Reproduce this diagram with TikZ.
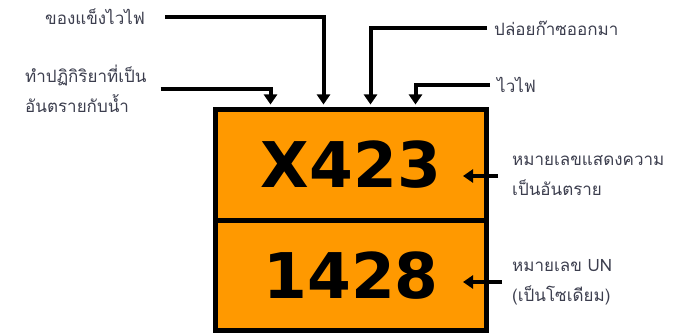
\documentclass[tikz,border=0pt]{standalone}
\usepackage{fontspec}
\usepackage{tikz}
\usetikzlibrary{arrows.meta,positioning}
\newfontfamily\thaifont[Script=Thai]{Loma}
\newfontfamily\platefont{DejaVu Sans}
\definecolor{plateorange}{RGB}{255,153,0}
\definecolor{labelgray}{RGB}{60,62,78}

\begin{document}
\begin{tikzpicture}[
			x=1pt,y=-1pt,
			panel/.style={
				rectangle,
				draw=black,
				line width=5pt,
				fill=plateorange,
				minimum width=271pt,
				inner sep=0pt,
				font=\platefont\bfseries\fontsize{63}{63}\selectfont
			},
			thlabel/.style={
				anchor=west,
				align=left,
				inner sep=2pt,
				text=labelgray,
				font=\thaifont\fontsize{17}{30}\selectfont
			},
			pointer/.style={-{Triangle[length=10pt,width=13pt]},line width=4pt,draw=black}
			]
			\useasboundingbox (0,0) rectangle (674,334);
			\node[panel, minimum height=111pt] (hazard) at (351,165) {X423};
			\node[panel, minimum height=110pt] (unnum) at (351,275.5) {1428};
			
			\node[thlabel] (solid) at (43,17) {ของแข็งไวไฟ};
			\node[thlabel] (water) at (23,89) {ทำปฏิกิริยาที่เป็น\\อันตรายกับน้ำ};
			\node[thlabel] (gas) at (492,28) {ปล่อยก๊าซออกมา};
			\node[thlabel] (flam) at (495,85) {ไวไฟ};
			\node[thlabel] (hazdesc) at (510,176) {หมายเลขแสดงความ\\เป็นอันตราย};
			\node[thlabel] (undesc) at (510,282) {หมายเลข UN\\(เป็นโซเดียม)};
			
			\coordinate (t1) at ([xshift=57.5pt,yshift=2.5pt]hazard.north west);
			\coordinate (t2) at ([xshift=110.5pt,yshift=2.5pt]hazard.north west);
			\coordinate (t3) at ([xshift=157.5pt,yshift=2.5pt]hazard.north west);
			\coordinate (t4) at ([xshift=202.5pt,yshift=2.5pt]hazard.north west);
			\coordinate (hzin) at ([xshift=-26pt]hazard.east);
			\coordinate (unin) at ([xshift=-26pt]unnum.east);
			
			\draw[pointer, shorten <=18pt] (solid.east) -| (t2);
			\draw[pointer, shorten <=12pt] (water.east) -| (t1);
			\draw[pointer, shorten <=5pt] (gas.west) -| (t3);
			\draw[pointer, shorten <=5pt] (flam.west) -| (t4);
			\draw[pointer, shorten <=12pt] (hazdesc.west) -- (hazdesc.west -| hzin);
			\draw[pointer, shorten <=8pt] (undesc.west) -- (undesc.west -| unin);
		\end{tikzpicture}
\end{document}
